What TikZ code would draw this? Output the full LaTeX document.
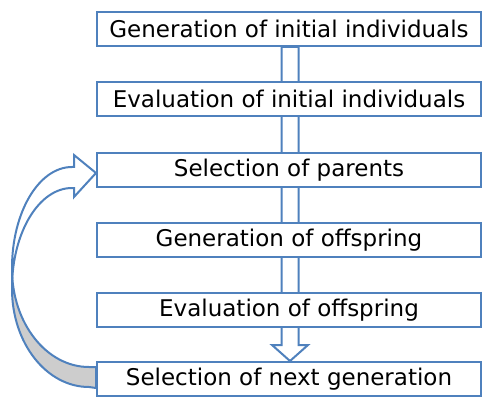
\documentclass[tikz,border=0pt]{standalone}
\usepackage{fontspec}
\setmainfont{DejaVu Sans}
\usetikzlibrary{calc}
\definecolor{edgeblue}{RGB}{79,129,189}
\definecolor{backgrey}{RGB}{205,205,205}
\pgfdeclarelayer{background}
\pgfsetlayers{background,main}
\begin{document}
\begin{tikzpicture}[x=1pt,y=1pt,
  stepbox/.style={draw=edgeblue, line width=2pt, fill=white, minimum width=384pt, minimum height=34pt, inner sep=0pt, font=\fontsize{23}{27}\selectfont},
  flowline/.style={draw=edgeblue, line width=2pt, line join=miter}]
\useasboundingbox (0,0) rectangle (482,397);
\node[stepbox] (b1) at (289,368) {Generation of initial individuals};
\node[stepbox] (b2) at (289,298) {Evaluation of initial individuals};
\node[stepbox] (b3) at (289,227) {Selection of parents};
\node[stepbox] (b4) at (289,157) {Generation of offspring};
\node[stepbox] (b5) at (289,87) {Evaluation of offspring};
\node[stepbox] (b6) at (289,18) {Selection of next generation};
\begin{pgfonlayer}{background}
  % main downward block arrow
  \draw[flowline, fill=white] ($(b1.south)+(-7.5,0)$) -- ($(b6.north)+(-7.5,16)$) -- ($(b6.north)+(-17,16)$)
     -- ($(b6.north)+(1,0)$) -- ($(b6.north)+(19,16)$) -- ($(b6.north)+(9.5,16)$) -- ($(b1.south)+(9.5,0)$) -- cycle;
  % curved return arrow: shaded back band
  \draw[flowline, fill=backgrey] ($(b6.west)+(0,12)$) -- ++(-7,0)
     arc[start angle=270, end angle=180, x radius=77, y radius=98] -- ++(0,-20)
     arc[start angle=180, end angle=270, x radius=77, y radius=98] -- ($(b6.west)+(0,-9)$) -- cycle;
  % curved return arrow: front band with head
  \draw[flowline, fill=white] ($(b3.west)+(0,-3)$) -- ++(-22,18) -- ++(0,-12) -- ++(-2,0)
     arc[start angle=90, end angle=180, x radius=60, y radius=101] -- ++(0,-20)
     arc[start angle=180, end angle=90, x radius=60, y radius=100] -- ++(2,0) -- ++(0,-9) -- cycle;
\end{pgfonlayer}
\end{tikzpicture}
\end{document}
